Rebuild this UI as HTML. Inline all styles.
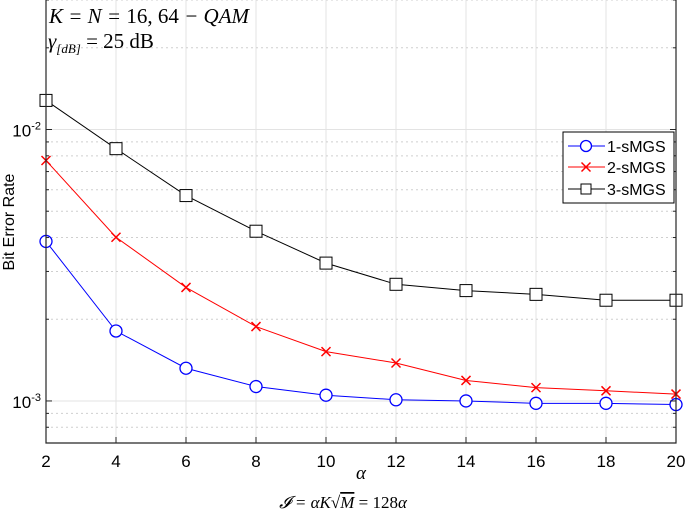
<!DOCTYPE html>
<html><head><meta charset="utf-8"><style>
html,body{margin:0;padding:0;background:#fff;}
svg{display:block;font-family:"Liberation Sans",sans-serif;}
</style></head><body>
<svg id="chart" width="685" height="512" viewBox="0 0 685 512" xmlns="http://www.w3.org/2000/svg">
<g id="grid"></g>
<g id="series"></g>
<g id="axes"></g>
<text x="49" y="23" font-family="'Liberation Serif',serif" font-style="italic" font-size="21">K = N = <tspan font-style="normal">16, 64</tspan> − QAM</text>
<text x="48" y="48" font-family="'Liberation Serif',serif" font-size="21"><tspan font-style="italic">γ</tspan><tspan font-size="13" dy="5" font-style="italic">[dB]</tspan><tspan dy="-5"> = 25 dB</tspan></text>
<text transform="translate(14,222) rotate(-90)" text-anchor="middle" font-size="16" font-weight="500">Bit Error Rate</text>
<text x="361" y="479" text-anchor="middle" font-family="'Liberation Serif',serif" font-style="italic" font-size="19">α</text>
<text x="343" y="508" text-anchor="middle" font-family="'Liberation Serif',serif" font-size="17"><tspan font-style="italic">𝓘 = αK</tspan>√<tspan font-style="italic" text-decoration="overline">M</tspan> = 128<tspan font-style="italic">α</tspan></text>
<g>
<rect x="563" y="132" width="111" height="71" fill="#fff" stroke="#000" stroke-width="1"/>
<g><line x1="568" y1="146" x2="605" y2="146" stroke="#0000ff"/><circle cx="586" cy="146" r="5.5" fill="#fff" stroke="#0000ff" stroke-width="1.3"/><text x="607" y="152" font-size="16">1-sMGS</text></g>
<g><line x1="568" y1="167" x2="605" y2="167" stroke="#ff0000"/><path d="M581.5 162.5L590.5 171.5M590.5 162.5L581.5 171.5" stroke="#ff0000" stroke-width="1.5"/><text x="607" y="173" font-size="16">2-sMGS</text></g>
<g><line x1="568" y1="189" x2="605" y2="189" stroke="#000"/><rect x="581" y="184" width="10" height="10" fill="#fff" stroke="#000"/><text x="607" y="195" font-size="16">3-sMGS</text></g>
</g>
</svg>
<script>
const xValues=[2,4,6,8,10,12,14,16,18,20];
const ber1=[0.00387,0.00181,0.00132,0.00113,0.00105,0.00101,0.00100,0.00098,0.00098,0.00097];
const ber2=[0.00769,0.00401,0.00262,0.00188,0.00152,0.00138,0.00119,0.00112,0.00109,0.00106];
const ber3=[0.0128,0.0085,0.00571,0.00422,0.00322,0.00269,0.00255,0.00247,0.00235,0.00235];
const xTicks=[2,4,6,8,10,12,14,16,18,20];
const yMin=0.0007, yMax=0.03;
const L=46,R=676,T=0,B=443;
const NS="http://www.w3.org/2000/svg";
function X(v){return L+(v-2)/(20-2)*(R-L);}
function Y(v){return B-(Math.log10(v)-Math.log10(yMin))/(Math.log10(yMax)-Math.log10(yMin))*(B-T);}
function mk(t,a,p){const e=document.createElementNS(NS,t);for(const k in a)e.setAttribute(k,a[k]);p.appendChild(e);return e;}
const grid=document.getElementById('grid'),axes=document.getElementById('axes'),ser=document.getElementById('series');
xTicks.forEach(t=>{const l=mk('line',{x1:X(t),x2:X(t),y1:T,y2:B,stroke:'#e3e3e3','stroke-width':1},grid);

});
for(let d=-4;d<=-1;d++){for(let m=1;m<=9;m++){const v=m*Math.pow(10,d);if(v<yMin||v>yMax)continue;const y=Y(v);
const l=mk('line',{x1:L,x2:R,y1:y,y2:y,stroke:m===1?'#e3e3e3':'#cfcfcf','stroke-width':1,'stroke-dasharray':m===1?'':'2,3'},grid);


const tk=mk('line',{x1:L,x2:L+(m===1?6:3),y1:y,y2:y,stroke:'#262626'},axes);


const tk2=mk('line',{x1:R,x2:R-(m===1?6:3),y1:y,y2:y,stroke:'#262626'},axes);


if(m===1){const tx=mk('text',{x:L-5,y:y+7,'text-anchor':'end','font-size':17,'font-weight':500},axes);


tx.textContent='10';const s=mk('tspan',{dy:-7,'font-size':11},tx);s.textContent=String(d);}}}
const ax=mk('path',{d:`M${L} ${T}V${B}H${R}V${T}`,fill:'none',stroke:'#262626','stroke-width':1.2},axes);


xTicks.forEach(t=>{const k=mk('line',{x1:X(t),x2:X(t),y1:B,y2:B-6,stroke:'#262626'},axes);


const tx=mk('text',{x:X(t),y:467,'text-anchor':'middle','font-size':17,'font-weight':500},axes);


tx.textContent=t;});
function draw(vals,color,marker,name){
const g=mk('g',{},ser);


const pl=mk('polyline',{points:vals.map((v,i)=>X(xValues[i])+','+Y(v)).join(' '),fill:'none',stroke:color,'stroke-width':1},g);


vals.forEach((v,i)=>{const x=X(xValues[i]),y=Y(v);let e;
if(marker==='o')e=mk('circle',{cx:x,cy:y,r:6,fill:'#fff',stroke:color,'stroke-width':1.3},g);
else if(marker==='x')e=mk('path',{d:`M${x-4.5} ${y-4.5}L${x+4.5} ${y+4.5}M${x+4.5} ${y-4.5}L${x-4.5} ${y+4.5}`,stroke:color,'stroke-width':1.5},g);
else e=mk('rect',{x:x-6,y:y-6,width:12,height:12,fill:'#fff',stroke:color,'stroke-width':1},g);

});}
draw(ber3,'#000','s','series-3-smgs');
draw(ber2,'#ff0000','x','series-2-smgs');
draw(ber1,'#0000ff','o','series-1-smgs');
</script>
</body></html>
